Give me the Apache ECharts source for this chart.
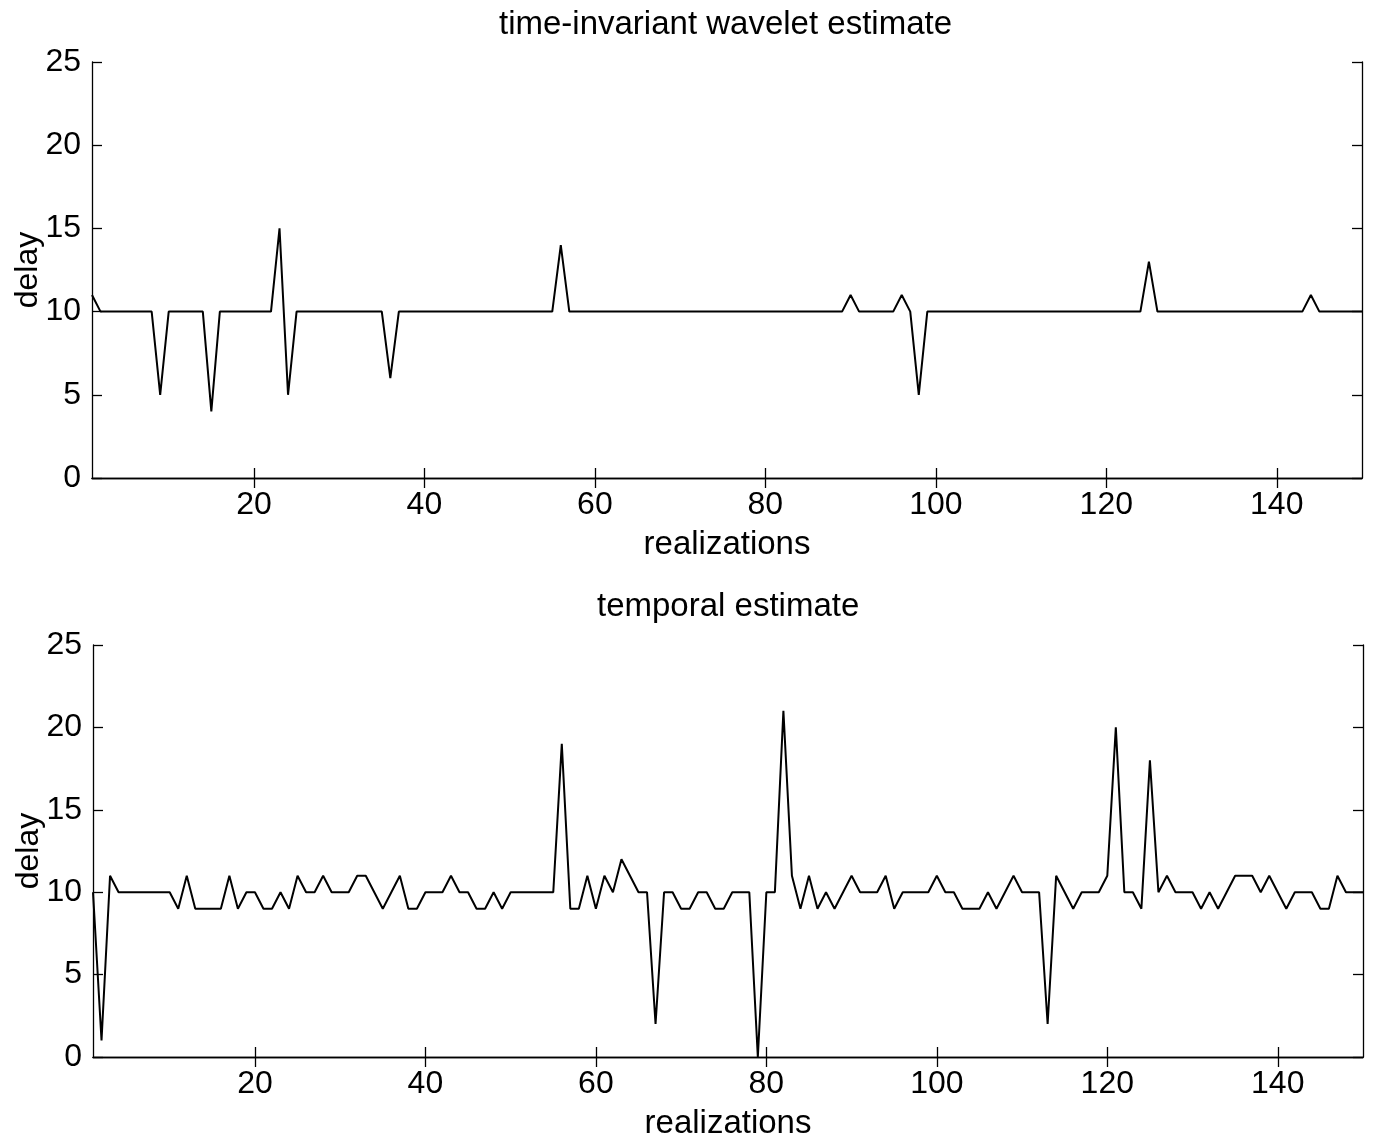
<!DOCTYPE html>
<html>
<head>
<meta charset="utf-8">
<script src="https://cdn.jsdelivr.net/npm/echarts@6/dist/echarts.min.js"></script>
<style>
  html, body { margin: 0; padding: 0; background: #fff; }
  #chart { width: 1373px; height: 1142px; }
</style>
</head>
<body>
<div id="chart"></div>
<script>
const chart = echarts.init(document.getElementById("chart"));

// delay per realization (1..150)
const waveletDelay = [
  11, 10, 10, 10, 10, 10, 10, 10, 5, 10,
  10, 10, 10, 10, 4, 10, 10, 10, 10, 10,
  10, 10, 15, 5, 10, 10, 10, 10, 10, 10,
  10, 10, 10, 10, 10, 6, 10, 10, 10, 10,
  10, 10, 10, 10, 10, 10, 10, 10, 10, 10,
  10, 10, 10, 10, 10, 14, 10, 10, 10, 10,
  10, 10, 10, 10, 10, 10, 10, 10, 10, 10,
  10, 10, 10, 10, 10, 10, 10, 10, 10, 10,
  10, 10, 10, 10, 10, 10, 10, 10, 10, 11,
  10, 10, 10, 10, 10, 11, 10, 5, 10, 10,
  10, 10, 10, 10, 10, 10, 10, 10, 10, 10,
  10, 10, 10, 10, 10, 10, 10, 10, 10, 10,
  10, 10, 10, 10, 13, 10, 10, 10, 10, 10,
  10, 10, 10, 10, 10, 10, 10, 10, 10, 10,
  10, 10, 10, 11, 10, 10, 10, 10, 10, 10
];

const temporalDelay = [
  10, 1, 11, 10, 10, 10, 10, 10, 10, 10,
  9, 11, 9, 9, 9, 9, 11, 9, 10, 10,
  9, 9, 10, 9, 11, 10, 10, 11, 10, 10,
  10, 11, 11, 10, 9, 10, 11, 9, 9, 10,
  10, 10, 11, 10, 10, 9, 9, 10, 9, 10,
  10, 10, 10, 10, 10, 19, 9, 9, 11, 9,
  11, 10, 12, 11, 10, 10, 2, 10, 10, 9,
  9, 10, 10, 9, 9, 10, 10, 10, 0, 10,
  10, 21, 11, 9, 11, 9, 10, 9, 10, 11,
  10, 10, 10, 11, 9, 10, 10, 10, 10, 11,
  10, 10, 9, 9, 9, 10, 9, 10, 11, 10,
  10, 10, 2, 11, 10, 9, 10, 10, 10, 11,
  20, 10, 10, 9, 18, 10, 11, 10, 10, 10,
  9, 10, 9, 10, 11, 11, 11, 10, 11, 10,
  9, 10, 10, 10, 9, 9, 11, 10, 10, 10
];

const xTicks = [20, 40, 60, 80, 100, 120, 140];
const titles = ["time-invariant wavelet estimate", "temporal estimate"];

const FONT = "Liberation Sans, Arial, Helvetica, sans-serif";
const lineStyle = { color: "#000", width: 1.3 };

function xAxes(gridIndex) {
  return [
    {
      type: "value", gridIndex, min: 1, max: 150, position: "bottom",
      name: "realizations", nameLocation: "middle", nameGap: 50,
      nameTextStyle: { fontSize: 33, color: "#000", fontFamily: FONT },
      axisLine: { lineStyle },
      axisTick: { inside: true, length: 10, lineStyle, customValues: xTicks },
      axisLabel: { fontSize: 32, color: "#000", fontFamily: FONT, margin: 11, customValues: xTicks },
      splitLine: { show: false }
    },
    {
      type: "value", gridIndex, min: 1, max: 150, position: "top",
      axisLine: { lineStyle },
      axisTick: { inside: true, length: 10, lineStyle, customValues: xTicks },
      axisLabel: { show: false },
      splitLine: { show: false }
    }
  ];
}

function yAxes(gridIndex) {
  return [
    {
      type: "value", gridIndex, min: 0, max: 25, interval: 5, position: "left",
      name: "delay", nameLocation: "middle", nameGap: 48, nameRotate: 90,
      nameMoveOverlap: false,
      nameTextStyle: { fontSize: 32, color: "#000", fontFamily: FONT },
      axisLine: { show: true, lineStyle },
      axisTick: { show: true, inside: true, length: 10, lineStyle },
      axisLabel: { fontSize: 32, color: "#000", fontFamily: FONT, margin: 11 },
      splitLine: { show: false }
    },
    {
      type: "value", gridIndex, min: 0, max: 25, interval: 5, position: "right",
      axisLine: { show: true, lineStyle },
      axisTick: { show: true, inside: true, length: 10, lineStyle },
      axisLabel: { show: false },
      splitLine: { show: false }
    }
  ];
}

const toPoints = arr => arr.map((v, i) => [i + 1, v]);

const titleStyle = { fontSize: 33, fontWeight: "normal", color: "#000", fontFamily: FONT };

chart.setOption({
  backgroundColor: "#fff",
  animation: false,
  title: [
    { text: titles[0], left: 494, top: 3, textStyle: titleStyle },
    { text: titles[1], left: 592, top: 585, textStyle: titleStyle }
  ],
  grid: [
    { left: 92, top: 62, width: 1270, height: 416, outerBoundsMode: "none", containLabel: false },
    { left: 93, top: 645, width: 1270, height: 412, outerBoundsMode: "none", containLabel: false }
  ],
  xAxis: [...xAxes(0), ...xAxes(1)],
  yAxis: [...yAxes(0), ...yAxes(1)],
  series: [
    {
      type: "line", xAxisIndex: 0, yAxisIndex: 0, data: toPoints(waveletDelay),
      showSymbol: false, lineStyle: { color: "#000", width: 2 }
    },
    {
      type: "line", xAxisIndex: 2, yAxisIndex: 2, data: toPoints(temporalDelay),
      showSymbol: false, lineStyle: { color: "#000", width: 2 }
    }
  ]
});
</script>
</body>
</html>
